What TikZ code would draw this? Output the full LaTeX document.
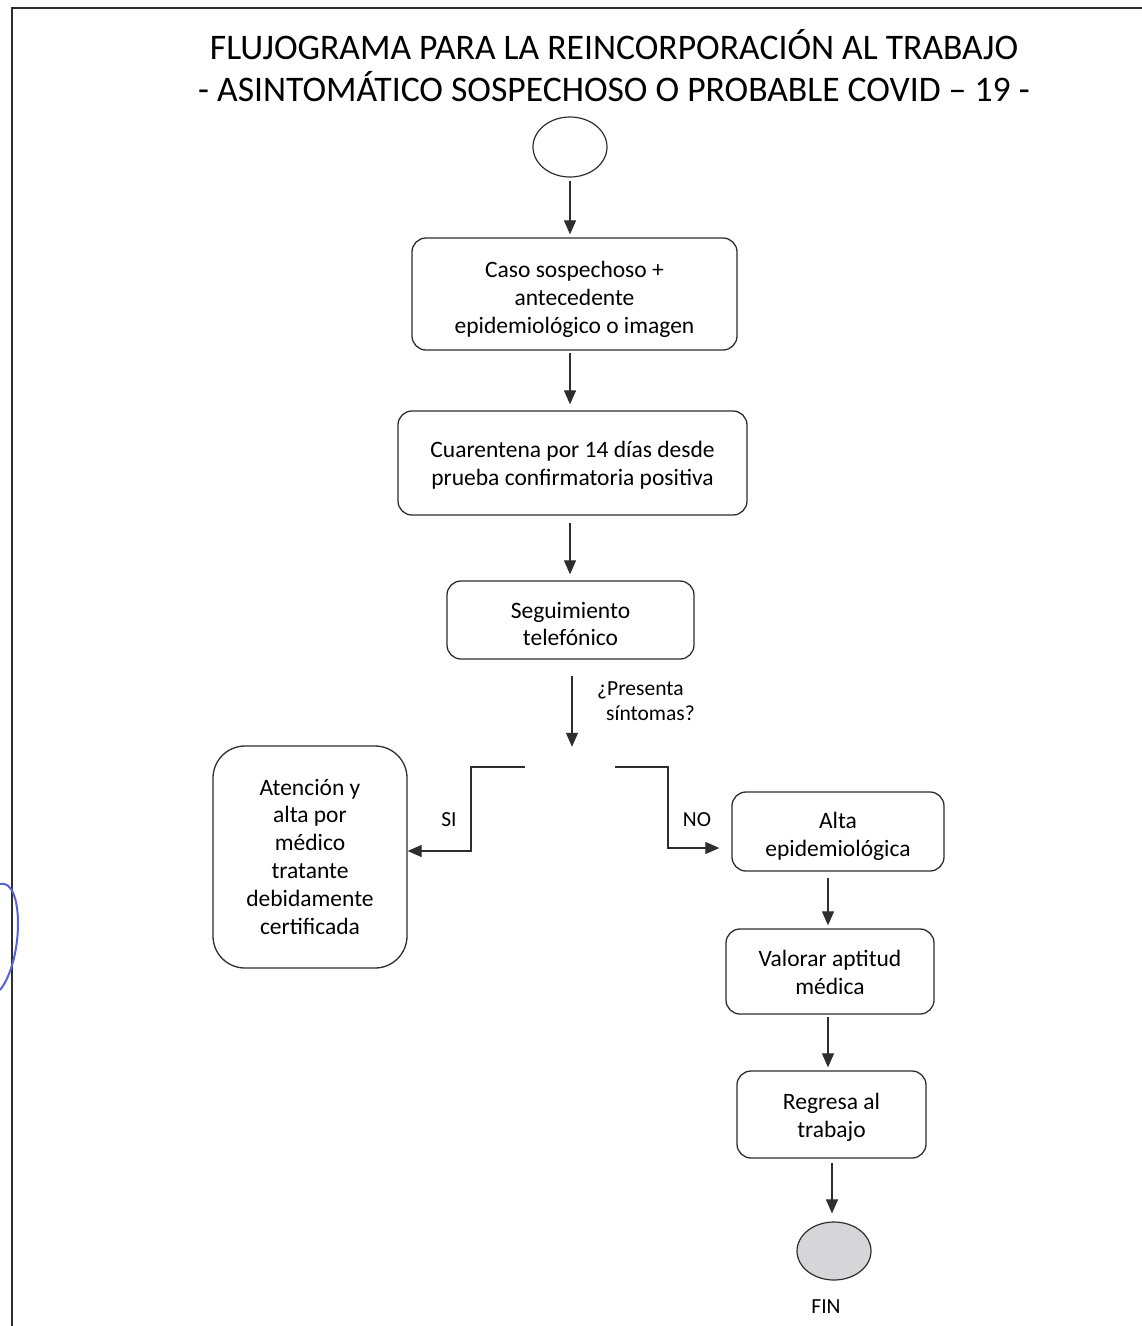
\documentclass[tikz,border=0pt]{standalone}
\usepackage{fontspec}
\setmainfont{Carlito}
\usetikzlibrary{arrows.meta,shapes.geometric}
\definecolor{ink}{HTML}{2E2E2E}
\definecolor{pen}{HTML}{5A63D6}
\definecolor{endfill}{HTML}{D6D6D8}
\begin{document}
\begin{tikzpicture}[x=1pt,y=-1pt,
  box/.style={draw=ink,line width=1.3pt,rounded corners=14pt,inner sep=0pt},
  btext/.style={align=center,inner sep=0pt,font=\fontsize{23.5}{27.8}\selectfont,text=black},
  conn/.style={draw=ink,line width=1.1pt,-{Triangle[length=14pt,width=12pt]}},
  lbl/.style={font=\fontsize{21.5}{25}\selectfont,align=left,inner sep=0pt}]
\useasboundingbox (0,0) rectangle (1142,1326);
\fill[white] (0,0) rectangle (1142,1326);
% page frame
\draw[ink,line width=1.4pt] (12,1326) -- (12,8) -- (1142,8);
% pen mark
\draw[pen,line width=2pt] (0,884) .. controls (24,878) and (24,960) .. (0,990);
% title
\node[font=\fontsize{36}{42}\selectfont,inner sep=0pt] (t1) at (614,45) {\scalebox{0.99}[1]{FLUJOGRAMA PARA LA REINCORPORACIÓN AL TRABAJO}};
\node[font=\fontsize{36}{42}\selectfont,inner sep=0pt] (t2) at (614,87) {\scalebox{0.99}[1]{- ASINTOMÁTICO SOSPECHOSO O PROBABLE COVID – 19 -}};
% nodes
\node[draw=ink,line width=1.2pt,ellipse,minimum width=74pt,minimum height=60pt,inner sep=0pt] (start) at (570,147) {};
\node[box,minimum width=325pt,minimum height=112pt] (b1) at (574.5,294) {};
\node[btext] (b1t) at (574.5,299.5) {Caso sospechoso +\\antecedente\\epidemiológico o imagen};
\node[box,minimum width=349pt,minimum height=104pt] (b2) at (572.5,463) {};
\node[btext] (b2t) at (572.5,465) {Cuarentena por 14 días desde\\prueba confirmatoria positiva};
\node[box,minimum width=247pt,minimum height=78pt] (b3) at (570.5,620) {};
\node[btext] (b3t) at (570.5,624) {Seguimiento\\telefónico};
\node[inner sep=0pt,minimum width=90pt,minimum height=40pt] (dec) at (570,767) {};
\node[box,rounded corners=32pt,minimum width=194pt,minimum height=222pt] (b4) at (310,857) {};
\node[btext] (b4t) at (310,856.5) {Atención y\\alta por\\médico\\tratante\\debidamente\\certificada};
\node[box,minimum width=212pt,minimum height=79pt] (b5) at (838,831.5) {};
\node[btext] (b5t) at (838,836.5) {Alta\\epidemiológica};
\node[box,minimum width=208pt,minimum height=85pt] (b6) at (830,971.5) {};
\node[btext] (b6t) at (830,972.5) {Valorar aptitud\\médica};
\node[box,minimum width=189pt,minimum height=87pt] (b7) at (831.5,1114.5) {};
\node[btext] (b7t) at (831.5,1117.5) {Regresa al\\trabajo};
\node[draw=ink,line width=1.2pt,fill=endfill,ellipse,minimum width=74pt,minimum height=58pt,inner sep=0pt] (fin) at (834,1251) {};
\node[lbl] (finl) at (826,1307) {FIN};
% connectors
\draw[conn,shorten <=3pt,shorten >=3pt] (start.south) -- (b1.north -| start.south);
\draw[conn,shorten <=2pt,shorten >=6pt] (b1.south -| 570,0) -- (b2.north -| 570,0);
\draw[conn,shorten <=7pt,shorten >=6pt] (b2.south -| 570,0) -- (b3.north -| 570,0);
\draw[conn,shorten <=16pt] (b3.south -| 572,0) -- (dec.north -| 572,0);
\node[lbl] (q) at (646,701) {¿Presenta\\\hspace*{9pt}síntomas?};
\draw[conn] (dec.west) -- (471,767) -- (471,851) -- (b4.east |- 0,851);
\draw[conn,shorten >=12pt] (dec.east) -- (668,767) -- (668,848) -- (b5.west |- 0,848);
\node[lbl] (si) at (449,820) {SI};
\node[lbl] (no) at (697,820) {NO};
\draw[conn,shorten <=6pt,shorten >=3pt] (b5.south -| 828,0) -- (b6.north -| 828,0);
\draw[conn,shorten <=2pt,shorten >=3pt] (b6.south -| 828,0) -- (b7.north -| 828,0);
\draw[conn,shorten <=4pt,shorten >=8pt] (b7.south -| 832,0) -- (fin.north -| 832,0);
\end{tikzpicture}
\end{document}
